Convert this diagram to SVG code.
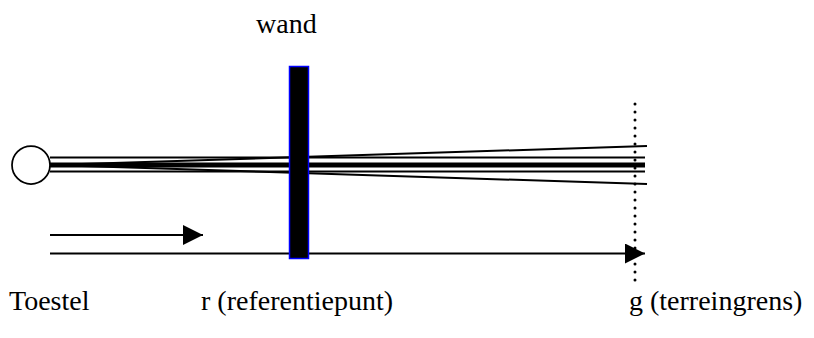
<svg xmlns="http://www.w3.org/2000/svg" width="814" height="338" viewBox="0 0 814 338">
<style>
.t{font-family:"Liberation Serif","Times New Roman",serif;font-size:28px;fill:#000}
.ln{stroke:#000;stroke-width:2;fill:none}
</style>
<defs>
<marker id="ah" viewBox="0 0 20 20" refX="20" refY="10" markerWidth="20" markerHeight="20" markerUnits="userSpaceOnUse" orient="auto">
<path d="M0,0 L20,10 L0,20 Z" fill="#000"/>
</marker>
</defs>
<rect width="814" height="338" fill="#fff"/>
<g id="connectors">
<line class="ln" x1="50" y1="165" x2="647" y2="146"/>
<line class="ln" x1="50" y1="165" x2="647" y2="184"/>
<line class="ln" x1="50" y1="157.5" x2="645" y2="157.5"/>
<line class="ln" x1="50" y1="171.5" x2="645" y2="171.5"/>
<line stroke="#000" stroke-width="5" x1="50" y1="165" x2="645" y2="165"/>
<line class="ln" x1="50" y1="235" x2="203" y2="235" marker-end="url(#ah)"/>
<line class="ln" x1="50" y1="253.5" x2="645" y2="253.5" marker-end="url(#ah)"/>
</g>
<g id="toestel">
<circle cx="31" cy="165" r="19" fill="#fff" stroke="#000" stroke-width="1.75"/>
</g>
<g id="wand">
<rect x="289.5" y="66.5" width="19" height="192" fill="#000" stroke="#0000ff" stroke-width="1.5"/>
<text class="t" x="256" y="33">wand</text>
</g>
<g id="terreingrens">
<line x1="635" y1="104" x2="635" y2="282" stroke="#000" stroke-width="3" stroke-linecap="round" stroke-dasharray="0 8"/>
</g>
<g id="labels">
<text class="t" x="9" y="310">Toestel</text>
<text class="t" x="201" y="310">r (referentiepunt)</text>
<text class="t" x="629" y="310">g (terreingrens)</text>
</g>
</svg>
